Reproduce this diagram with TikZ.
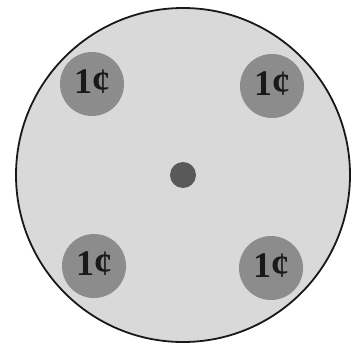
\documentclass[tikz,border=0pt]{standalone}
\usepackage{fontspec}
\setmainfont{Liberation Serif}
\begin{document}
\begin{tikzpicture}[x=1pt,y=-1pt,
  coin/.style={circle,fill=black!45,minimum size=64pt,inner sep=0pt},
  cointext/.style={font=\fontsize{36}{36}\selectfont\bfseries,text=black!90,inner sep=0pt},
  plate/.style={circle,draw=black!90,line width=1.8pt,fill=black!15,minimum size=334pt,inner sep=0pt},
  hub/.style={circle,fill=black!65,minimum size=26pt,inner sep=0pt}]
\useasboundingbox (0,0) rectangle (352,343);
\fill[white] (0,0) rectangle (352,343);
\node[plate] (p) at (183,175) {};
\node[hub] (h) at (183,175) {};
\node[coin] (c1) at (92,84) {};
\node[coin] (c2) at (272,86) {};
\node[coin] (c3) at (94,266) {};
\node[coin] (c4) at (271,268) {};
\foreach \c in {c1,c2,c3,c4}
  \node[cointext,anchor=base] (t\c) at ([yshift=-9pt]\c.center) {1¢};
\end{tikzpicture}
\end{document}
